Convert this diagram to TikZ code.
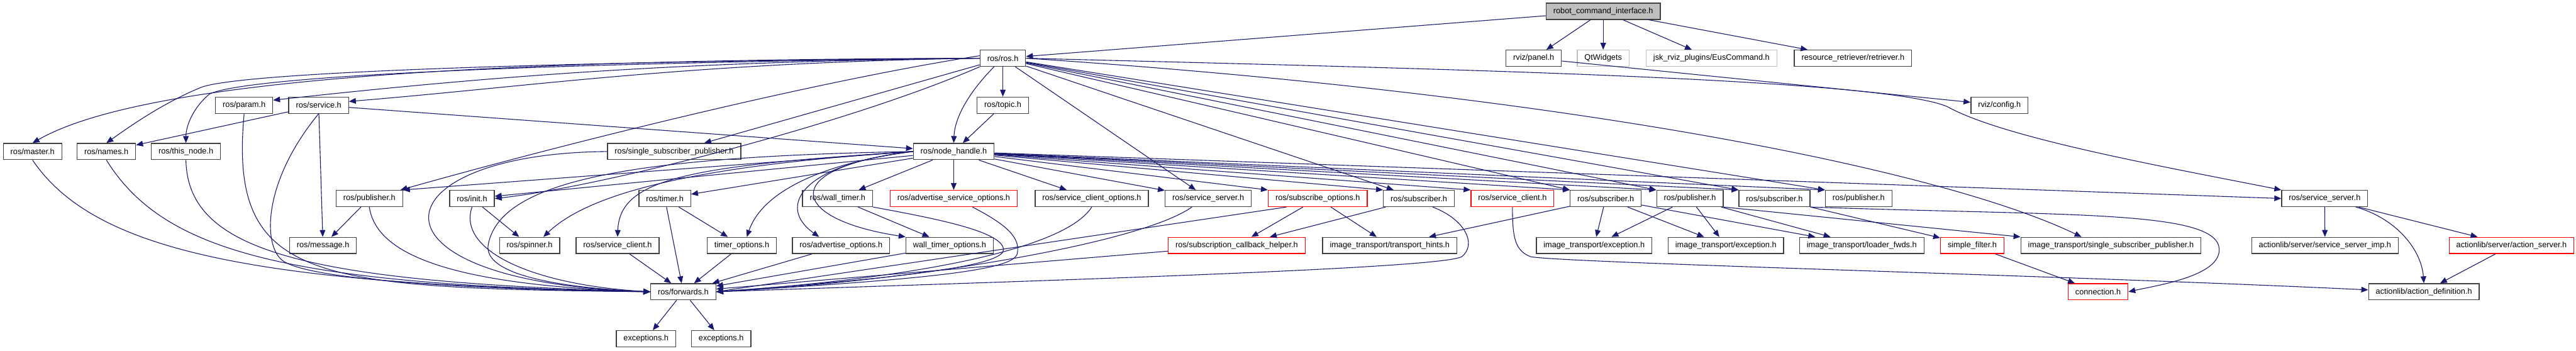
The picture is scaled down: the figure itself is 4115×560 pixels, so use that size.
\documentclass[tikz,border=0pt]{standalone}
\usepackage{fontspec}
\setmainfont{Liberation Sans}
\usepackage{tikz}
\usetikzlibrary{arrows.meta}
\definecolor{depBlue}{HTML}{191970}
\definecolor{boxEdge}{HTML}{404040}
\definecolor{extEdge}{HTML}{BFBFBF}
\definecolor{rootFill}{HTML}{BFBFBF}
\definecolor{hidRed}{HTML}{FF0000}

\begin{document}
\begin{tikzpicture}[x=1pt, y=-1pt,
  hdr/.style={draw=boxEdge, line width=1.3pt, inner xsep=11.5pt, inner ysep=0pt,
    minimum height=26pt, font=\fontsize{12.8pt}{15pt}\selectfont},
  hdrRed/.style={hdr, draw=hidRed},
  hdrExt/.style={hdr, draw=extEdge},
  hdrRoot/.style={hdr, fill=rootFill},
  dep/.style={draw=depBlue, line width=1.1pt, -{Triangle[length=11pt,width=9pt]}}]
  \path[use as bounding box, fill=white] (0,0) rectangle (4115,560);

  \node[hdrRoot] (root) at (2561,18) {robot\_command\_interface.h};
  \node[hdr] (ros) at (1602,93) {ros/ros.h};
  \node[hdr] (panel) at (2450,93) {rviz/panel.h};
  \node[hdrExt] (qtw) at (2561,93) {QtWidgets};
  \node[hdrExt] (eus) at (2734,93) {jsk\_rviz\_plugins/EusCommand.h};
  \node[hdr] (retr) at (2960,93) {resource\_retriever/retriever.h};
  \node[hdr] (param) at (390,168) {ros/param.h};
  \node[hdr] (service) at (509,168) {ros/service.h};
  \node[hdr] (topic) at (1602,168) {ros/topic.h};
  \node[hdr] (config) at (3194,168) {rviz/config.h};
  \node[hdr] (master) at (52,242) {ros/master.h};
  \node[hdr] (names) at (170,242) {ros/names.h};
  \node[hdr] (thisnode) at (297,242) {ros/this\_node.h};
  \node[hdr] (sspub) at (1077,242) {ros/single\_subscriber\_publisher.h};
  \node[hdr] (nh) at (1523.5,242) {ros/node\_handle.h};
  \node[hdr] (pubA) at (590,317) {ros/publisher.h};
  \node[hdr] (init) at (754,317) {ros/init.h};
  \node[hdr] (timer) at (1062,317) {ros/timer.h};
  \node[hdr] (wtimer) at (1338,317) {ros/wall\_timer.h};
  \node[hdrRed] (advsrv) at (1523.5,317) {ros/advertise\_service\_options.h};
  \node[hdr] (clisopt) at (1744,317) {ros/service\_client\_options.h};
  \node[hdr] (srvA) at (1930,317) {ros/service\_server.h};
  \node[hdrRed] (subopt) at (2105,317) {ros/subscribe\_options.h};
  \node[hdr] (subA) at (2266.5,317) {ros/subscriber.h};
  \node[hdrRed] (cliB) at (2416,317) {ros/service\_client.h};
  \node[hdr] (subB) at (2565,317) {ros/subscriber.h};
  \node[hdr] (pubB) at (2699.5,317) {ros/publisher.h};
  \node[hdr] (subC) at (2834.5,317) {ros/subscriber.h};
  \node[hdr] (pubC) at (2969,317) {ros/publisher.h};
  \node[hdr] (srvB) at (3713.5,317) {ros/service\_server.h};
  \node[hdr] (message) at (516,392) {ros/message.h};
  \node[hdr] (spinner) at (846,392) {ros/spinner.h};
  \node[hdr] (cliA) at (986.5,392) {ros/service\_client.h};
  \node[hdr] (topt) at (1185,392) {timer\_options.h};
  \node[hdr] (advopt) at (1343.5,392) {ros/advertise\_options.h};
  \node[hdr] (wtopt) at (1517,392) {wall\_timer\_options.h};
  \node[hdrRed] (subcb) at (1975.5,392) {ros/subscription\_callback\_helper.h};
  \node[hdr] (hints) at (2220,392) {image\_transport/transport\_hints.h};
  \node[hdr] (itexcA) at (2546.5,392) {image\_transport/exception.h};
  \node[hdr] (itexcB) at (2757,392) {image\_transport/exception.h};
  \node[hdr] (loader) at (2974,392) {image\_transport/loader\_fwds.h};
  \node[hdrRed] (sfilter) at (3150.5,392) {simple\_filter.h};
  \node[hdr] (itssp) at (3372,392) {image\_transport/single\_subscriber\_publisher.h};
  \node[hdr] (ssimp) at (3714,392) {actionlib/server/service\_server\_imp.h};
  \node[hdrRed] (actsrv) at (4012,392) {actionlib/server/action\_server.h};
  \node[hdr] (fwd) at (1091.5,466) {ros/forwards.h};
  \node[hdrRed] (conn) at (3351.5,466) {connection.h};
  \node[hdr] (actdef) at (3872,466) {actionlib/action\_definition.h};
  \node[hdr] (excA) at (1032,541) {exceptions.h};
  \node[hdr] (excB) at (1152,541) {exceptions.h};

  \draw[dep] (root) -- (ros);
  \draw[dep] (root) -- (panel);
  \draw[dep] (root) -- (qtw);
  \draw[dep] (root) -- (eus);
  \draw[dep] (root) -- (retr);
  \draw[dep] (panel) -- (config);

  \draw[dep] (ros.west) .. controls (900,95) and (250,115) .. (master.north);
  \draw[dep] (ros.west) .. controls (900,98) and (380,115) .. (320,140) .. controls (260,165) and (210,200) .. (names.north);
  \draw[dep] (ros.west) .. controls (900,100) and (400,120) .. (335,150) .. controls (310,170) and (297,200) .. (thisnode.north);
  \draw[dep] (ros.west) .. controls (1100,98) and (800,120) .. ([yshift=8pt]param.east);
  \draw[dep] (ros.west) .. controls (1100,100) and (850,138) .. ([yshift=6pt]service.east);
  \draw[dep] (ros) -- (sspub);
  \draw[dep] ([yshift=4pt]ros.west) .. controls (1300,130) and (900,230) .. ([xshift=-4pt]pubA.north east);
  \draw[dep] (ros.south west) .. controls (1350,200) and (950,300) .. (init.east);
  \draw[dep] ([xshift=-14pt]ros.south) .. controls (1545,150) and (1525,190) .. (nh.north);
  \draw[dep] (ros) -- (topic);
  \draw[dep] (topic) -- (nh);
  \draw[dep] (ros) -- (srvA);
  \draw[dep] (ros) -- (subA);
  \draw[dep] (ros) -- (subB.north west);
  \draw[dep] (ros) -- (pubB.north west);
  \draw[dep] (ros) -- (subC.north west);
  \draw[dep] (ros) -- (pubC.north west);
  \draw[dep] (ros.east) .. controls (2500,150) and (3100,270) .. ([xshift=-47pt]itssp.north);
  \draw[dep] (ros.east) .. controls (2300,110) and (3000,125) .. (3110,170) .. controls (3200,220) and (3450,265) .. (srvB.north west);

  \draw[dep] (nh.west) -- (pubA.north east);
  \draw[dep] (nh) -- (init);
  \draw[dep] (nh.west) .. controls (1150,262) and (950,300) .. ([xshift=22pt]spinner.north);
  \draw[dep] (nh.west) .. controls (1100,265) and (990,285) .. (cliA.north);
  \draw[dep] (nh) -- (timer);
  \draw[dep] (nh.west) .. controls (1330,258) and (1220,300) .. ([xshift=8pt]topt.north);
  \draw[dep] (nh) -- (wtimer);
  \draw[dep] (nh.west) .. controls (1280,262) and (1240,330) .. ([xshift=-35pt]advopt.north);
  \draw[dep] (nh.west) .. controls (1240,268) and (1260,350) .. (wtopt.north west);
  \draw[dep] (nh.west) .. controls (1000,250) and (800,290) .. (780,390) .. controls (770,440) and (900,460) .. (fwd.west);
  \draw[dep] (nh) -- (advsrv);
  \draw[dep] (nh) -- (clisopt);
  \draw[dep] (nh) -- (srvA);
  \draw[dep] (nh) -- (subopt.north west);
  \draw[dep] (nh) -- (subA.north west);
  \draw[dep] (nh) -- (cliB.north west);
  \draw[dep] (nh) -- (subB.north west);
  \draw[dep] (nh) -- (pubB.north west);
  \draw[dep] (nh) -- (subC.north west);
  \draw[dep] (nh) -- (pubC.north west);
  \draw[dep] (nh) -- (srvB.west);

  \draw[dep] (service) -- (nh);
  \draw[dep] (service) -- (names);
  \draw[dep] (service) -- (message);
  \draw[dep] (service.south) .. controls (420,290) and (420,390) .. (450,415) .. controls (490,450) and (800,463) .. (fwd.west);
  \draw[dep] (master.south) .. controls (150,400) and (400,455) .. (fwd.west);
  \draw[dep] (names.south) .. controls (260,400) and (450,455) .. (fwd.west);
  \draw[dep] (thisnode.south) .. controls (300,400) and (480,450) .. (fwd.west);
  \draw[dep] (param.south) .. controls (365,450) and (500,460) .. (fwd.west);
  \draw[dep] (pubA) -- (message);
  \draw[dep] (pubA.south) .. controls (600,400) and (700,455) .. (fwd.west);
  \draw[dep] (init) -- (spinner);
  \draw[dep] (init.south) .. controls (730,400) and (850,455) .. (fwd.west);
  \draw[dep] (sspub.west) .. controls (600,245) and (560,450) .. (fwd.west);

  \draw[dep] (cliA) -- (fwd);
  \draw[dep] (timer) -- (topt);
  \draw[dep] (timer) -- (fwd);
  \draw[dep] (topt) -- (fwd);
  \draw[dep] (advopt) -- (fwd);
  \draw[dep] (wtimer) -- (wtopt);
  \draw[dep] (wtopt) -- (fwd);
  \draw[dep] (wtimer.south east) .. controls (1500,350) and (1600,370) .. (1603,398) .. controls (1605,420) and (1500,440) .. (fwd.east);
  \draw[dep] ([xshift=30pt]advsrv.south) .. controls (1610,360) and (1630,380) .. (1625,405) .. controls (1620,430) and (1500,445) .. (fwd.east);
  \draw[dep] (clisopt.south) .. controls (1700,400) and (1450,445) .. (fwd.east);
  \draw[dep] ([xshift=-26pt]srvA.south) .. controls (1820,390) and (1450,450) .. (fwd.east);
  \draw[dep] ([xshift=-50pt]subopt.south) -- (fwd.east);
  \draw[dep] (subcb) -- (fwd);
  \draw[dep] ([xshift=22pt]subA.south) .. controls (2340,350) and (2360,390) .. (2335,410) .. controls (2300,430) and (1600,450) .. (fwd.east);

  \draw[dep] (subopt) -- (subcb);
  \draw[dep] (subopt) -- (hints);
  \draw[dep] (subA) -- (subcb);
  \draw[dep] (subB) -- (hints);
  \draw[dep] (subB) -- (itexcA);
  \draw[dep] (subB) -- (itexcB);
  \draw[dep] (subB) -- (loader);
  \draw[dep] (pubB) -- (itexcA);
  \draw[dep] (pubB) -- (itexcB);
  \draw[dep] (pubB) -- (loader);
  \draw[dep] (pubB.south east) -- (itssp.north west);
  \draw[dep] (subC) -- (sfilter);
  \draw[dep] (subC.south east) .. controls (3300,345) and (3540,335) .. (3545,397) .. controls (3548,440) and (3450,455) .. (conn.east);
  \draw[dep] (sfilter) -- (conn);
  \draw[dep] (cliB.south) .. controls (2416,380) and (2420,400) .. (2445,410) .. controls (2500,420) and (3300,440) .. ([yshift=3pt]actdef.west);

  \draw[dep] (srvB) -- (ssimp);
  \draw[dep] (srvB) -- (actsrv);
  \draw[dep] ([xshift=50pt]srvB.south) .. controls (3830,350) and (3868,400) .. (actdef.north);
  \draw[dep] (actsrv) -- (actdef);
  \draw[dep] (fwd) -- (excA);
  \draw[dep] (fwd) -- (excB);
\end{tikzpicture}
\end{document}
